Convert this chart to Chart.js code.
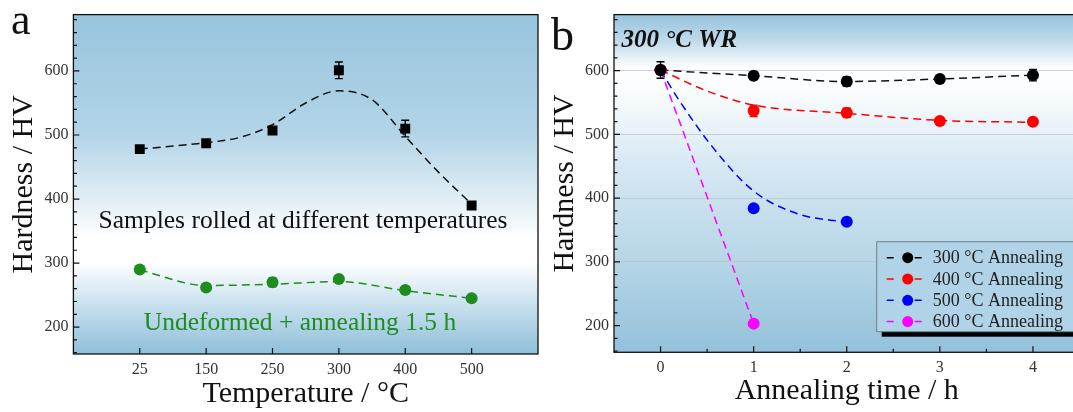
<!DOCTYPE html>
<html>
<head>
<meta charset="utf-8">
<script src="https://cdn.jsdelivr.net/npm/chart.js@4.4.1/dist/chart.umd.min.js"></script>
<style>
  html, body { margin: 0; padding: 0; background: #fff; }
  body { width: 1073px; height: 412px; overflow: hidden; position: relative; }
  .panel { position: absolute; top: 0; width: 545px; height: 412px; }
  #wrapA { left: 0; }
  #wrapB { left: 545px; }
</style>
</head>
<body>
<div class="panel" id="wrapA"><canvas id="chartA" width="545" height="412"></canvas></div>
<div class="panel" id="wrapB"><canvas id="chartB" width="545" height="412"></canvas></div>
<script>
// ---- panel a: hardness vs rolling temperature
const tempLabels = ["25", "150", "250", "300", "400", "500"];
const rolledHV = [478, 487, 507, 601, 510, 390];
const rolledErr = [5, 4, 6, 13, 13, 3];
const rolledFitX = [0, 1, 1.5, 2, 2.5, 3, 3.5, 4, 4.5, 5];
const rolledFit = [478, 488, 496, 516, 550, 569, 555, 498, 442, 392];
const annealedHV = [290, 262, 270, 275, 258, 245];
const annealedErr = [4, 3, 7, 5, 4, 3];
const annealedFit = [289, 265, 267, 271, 257, 245];

// ---- panel b: hardness vs annealing time (300 °C WR)
const timeH = [0, 1, 2, 3, 4];
const seriesNames = ["300 \u00B0C Annealing", "400 \u00B0C Annealing", "500 \u00B0C Annealing", "600 \u00B0C Annealing"];
const hv300 = [601, 592, 583, 587, 593];
const err300 = [13, 6, 7, 4, 9];
const hv400 = [601, 537, 534, 521, 520];
const err400 = [0, 9, 7, 3, 3];
const hv500 = [601, 384, 363];
const hv600 = [601, 203];
const fit400X = [0, 0.5, 1, 2, 3, 4];
const fit400 = [601, 568, 546, 533, 522, 519];
const fit500X = [0, 0.17, 0.57, 1, 1.48, 2];
const fit500 = [601, 560, 478, 411, 375, 362];

const yTicks = [200, 300, 400, 500, 600];
const timeTicks = [0, 1, 2, 3, 4];

const SERIF = "'Liberation Serif', 'Times New Roman', serif";
const GREEN = "#1e8c1e";

function pts(xs, ys) {
    return ys.map((y, i) => ({ x: xs[i], y: y }));
}

// background gradient, frame and inward ticks
const framePlugin = {
    id: "frame",
    beforeDraw(chart, args, opts) {
        const { ctx, chartArea: a } = chart;
        const g = ctx.createLinearGradient(0, a.top, 0, a.bottom);
        opts.stops.forEach(s => g.addColorStop(s[0], s[1]));
        ctx.save();
        ctx.fillStyle = g;
        ctx.fillRect(a.left, a.top, a.right - a.left, a.bottom - a.top);
        ctx.restore();
    },
    afterDraw(chart, args, opts) {
        const { ctx, chartArea: a, scales } = chart;
        ctx.save();
        ctx.strokeStyle = "#111";
        ctx.lineWidth = 1.3;
        ctx.strokeRect(a.left, a.top, a.right - a.left, a.bottom - a.top);
        ctx.lineWidth = 1.2;
        ctx.beginPath();
        scales.x.ticks.forEach(t => {
            const px = scales.x.getPixelForValue(t.value);
            ctx.moveTo(px, a.bottom); ctx.lineTo(px, a.bottom - 6);
        });
        opts.xMinor.forEach(v => {
            const px = scales.x.getPixelForValue(v);
            ctx.moveTo(px, a.bottom); ctx.lineTo(px, a.bottom - 3.5);
        });
        for (let v = 160; v <= 680; v += 20) {
            const py = scales.y.getPixelForValue(v);
            const len = v % 100 === 0 ? 6 : 3.5;
            ctx.moveTo(a.left, py); ctx.lineTo(a.left + len, py);
        }
        ctx.stroke();
        ctx.restore();
    }
};

const errorPlugin = {
    id: "errorBars",
    afterDatasetsDraw(chart) {
        const { ctx, scales } = chart;
        chart.data.datasets.forEach(ds => {
            if (!ds.errors) return;
            ctx.save();
            ctx.strokeStyle = ds.borderColor;
            ctx.lineWidth = 1.4;
            ds.data.forEach((p, i) => {
                const e = ds.errors[i];
                if (!e) return;
                const px = scales.x.getPixelForValue(p.x);
                const y1 = scales.y.getPixelForValue(p.y + e);
                const y2 = scales.y.getPixelForValue(p.y - e);
                ctx.beginPath();
                ctx.moveTo(px, y1); ctx.lineTo(px, y2);
                ctx.moveTo(px - 4, y1); ctx.lineTo(px + 4, y1);
                ctx.moveTo(px - 4, y2); ctx.lineTo(px + 4, y2);
                ctx.stroke();
            });
            ctx.restore();
        });
    }
};

const notesPlugin = {
    id: "notes",
    afterDraw(chart, args, opts) {
        const ctx = chart.ctx;
        ctx.save();
        opts.items.forEach(t => {
            ctx.font = t.font;
            ctx.fillStyle = t.color;
            ctx.textAlign = t.align || "left";
            ctx.textBaseline = "alphabetic";
            ctx.fillText(t.text, t.x, t.y);
        });
        ctx.restore();
    }
};

const boxLegendPlugin = {
    id: "boxLegend",
    afterDraw(chart, args, opts) {
        if (!opts.show) return;
        const ctx = chart.ctx;
        const items = chart.data.datasets.filter(ds => ds.inLegend);
        ctx.save();
        ctx.fillStyle = "#000";
        ctx.fillRect(opts.x + 5, opts.y + 5, opts.w, opts.h);
        ctx.fillStyle = "rgb(176,211,231)";
        ctx.fillRect(opts.x, opts.y, opts.w, opts.h);
        ctx.strokeStyle = "rgb(110,130,140)";
        ctx.lineWidth = 1;
        ctx.strokeRect(opts.x, opts.y, opts.w, opts.h);
        ctx.font = "18px " + SERIF;
        ctx.textBaseline = "middle";
        items.forEach((ds, i) => {
            const cy = opts.y + 16 + i * 21.3;
            ctx.strokeStyle = ds.backgroundColor;
            ctx.lineWidth = 1.5;
            ctx.beginPath();
            ctx.moveTo(opts.x + 10, cy); ctx.lineTo(opts.x + 17, cy);
            ctx.moveTo(opts.x + 38, cy); ctx.lineTo(opts.x + 45, cy);
            ctx.stroke();
            ctx.fillStyle = ds.backgroundColor;
            ctx.beginPath();
            ctx.arc(opts.x + 31, cy, 5.5, 0, Math.PI * 2);
            ctx.fill();
            ctx.fillStyle = "#222";
            ctx.fillText(ds.label, opts.x + 56, cy + 1);
        });
        ctx.restore();
    }
};

const tickFont = { family: SERIF, size: 16 };
const titleFont = { family: SERIF, size: 30, lineHeight: 1.2 };

function yAxis(width, titlePad, grid) {
    return {
        type: "linear",
        min: 158,
        max: 688,
        afterBuildTicks: s => { s.ticks = yTicks.map(v => ({ value: v })); },
        afterFit: s => { s.width = width; },
        grid: grid,
        border: { display: false },
        ticks: { font: tickFont, color: "#333", padding: 5 },
        title: { display: true, text: "Hardness / HV", font: titleFont, color: "#111", padding: { top: titlePad, bottom: 0 } }
    };
}

const dashed = { pointRadius: 0, borderWidth: 1.5, borderDash: [8, 5], fill: false, cubicInterpolationMode: "monotone", showLine: true };

new Chart(document.getElementById("chartA"), {
    type: "scatter",
    data: {
        datasets: [
            { label: "rolled", data: pts(tempLabels.map((_, i) => i), rolledHV), errors: rolledErr,
              pointStyle: "rect", pointRadius: 7, backgroundColor: "#000", borderColor: "#000", borderWidth: 0 },
            { label: "annealed", data: pts(tempLabels.map((_, i) => i), annealedHV), errors: annealedErr,
              pointRadius: 6, backgroundColor: GREEN, borderColor: GREEN, borderWidth: 0 },
            Object.assign({ label: "rolled fit", data: pts(rolledFitX, rolledFit), borderColor: "#111" }, dashed),
            Object.assign({ label: "annealed fit", data: pts(tempLabels.map((_, i) => i), annealedFit), borderColor: GREEN }, dashed)
        ]
    },
    options: {
        responsive: false,
        animation: false,
        layout: { padding: { top: 10, right: 4.5, left: 0, bottom: 0 } },
        scales: {
            x: {
                type: "linear", min: -1, max: 6,
                afterBuildTicks: s => { s.ticks = tempLabels.map((_, i) => ({ value: i })); },
                afterFit: s => { s.height = 58; },
                grid: { display: false, drawTicks: false },
                border: { display: false },
                ticks: { font: tickFont, color: "#333", padding: 6, callback: v => tempLabels[v] },
                title: { display: true, text: "Temperature / \u00B0C", font: titleFont, color: "#111", padding: { top: 0, bottom: 0 } }
            },
            y: yAxis(73.4, 6, { display: false, drawTicks: false })
        },
        plugins: {
            legend: { display: false },
            tooltip: { enabled: false },
            frame: {
                xMinor: [],
                stops: [[0, "rgb(152,196,221)"], [0.35, "rgb(178,212,231)"], [0.55, "rgb(226,239,246)"],
                         [0.66, "#ffffff"], [0.73, "#ffffff"], [0.86, "rgb(198,223,237)"], [1, "rgb(143,191,218)"]]
            },
            notes: {
                items: [
                    { text: "a", x: 11, y: 34, font: "44px " + SERIF, color: "#111" },
                    { text: "Samples rolled at different temperatures", x: 303, y: 228, align: "center", font: "25.5px " + SERIF, color: "#111" },
                    { text: "Undeformed + annealing 1.5 h", x: 300, y: 330, align: "center", font: "25.5px " + SERIF, color: GREEN }
                ]
            }
        }
    },
    plugins: [framePlugin, errorPlugin, notesPlugin]
});

new Chart(document.getElementById("chartB"), {
    type: "scatter",
    data: {
        datasets: [
            { label: seriesNames[0], inLegend: true, data: pts(timeH, hv300), errors: err300,
              pointRadius: 6, backgroundColor: "#000", borderColor: "#000", borderWidth: 0 },
            { label: seriesNames[1], inLegend: true, data: pts(timeH, hv400), errors: err400,
              pointRadius: 6, backgroundColor: "#ff0000", borderColor: "#ff0000", borderWidth: 0 },
            { label: seriesNames[2], inLegend: true, data: pts(timeH, hv500),
              pointRadius: 6, backgroundColor: "#0000ff", borderColor: "#0000ff", borderWidth: 0 },
            { label: seriesNames[3], inLegend: true, data: pts(timeH, hv600),
              pointRadius: 6, backgroundColor: "#ff00ff", borderColor: "#ff00ff", borderWidth: 0 },
            Object.assign({ label: "fit 300", data: pts(timeH, hv300), borderColor: "#111" }, dashed),
            Object.assign({ label: "fit 400", data: pts(fit400X, fit400), borderColor: "#ff0000" }, dashed),
            Object.assign({ label: "fit 500", data: pts(fit500X, fit500), borderColor: "#0000ff" }, dashed),
            Object.assign({ label: "fit 600", data: pts(timeH, hv600), borderColor: "#ff00ff" }, dashed)
        ]
    },
    options: {
        responsive: false,
        animation: false,
        layout: { padding: { top: 10, right: 10.5, left: 0, bottom: 0 } },
        scales: {
            x: {
                type: "linear", min: -0.5, max: 4.5,
                afterBuildTicks: s => { s.ticks = timeTicks.map(v => ({ value: v })); },
                afterFit: s => { s.height = 59.7; },
                grid: { display: false, drawTicks: false },
                border: { display: false },
                ticks: { font: tickFont, color: "#333", padding: 6 },
                title: { display: true, text: "Annealing time / h", font: titleFont, color: "#111", padding: { top: 0, bottom: 2.6 } }
            },
            y: yAxis(69, 2.6, { display: true, drawTicks: false, color: "rgba(185,190,195,0.7)", lineWidth: 1 })
        },
        plugins: {
            legend: { display: false },
            tooltip: { enabled: false },
            frame: {
                xMinor: [0.5, 1.5, 2.5, 3.5],
                stops: [[0, "rgb(150,195,221)"], [0.08, "rgb(192,219,235)"], [0.16, "#ffffff"], [0.22, "#fbfdfe"],
                        [0.45, "rgb(214,232,243)"], [0.75, "rgb(180,212,230)"], [1, "rgb(147,193,219)"]]
            },
            notes: {
                items: [
                    { text: "b", x: 6, y: 50, font: "46px " + SERIF, color: "#111" },
                    { text: "300 \u00B0C WR", x: 76.5, y: 47, font: "italic bold 25px " + SERIF, color: "#111" }
                ]
            },
            boxLegend: { show: true, x: 331.7, y: 241.7, w: 215, h: 90 }
        }
    },
    plugins: [framePlugin, errorPlugin, notesPlugin, boxLegendPlugin]
});
</script>
</body>
</html>
